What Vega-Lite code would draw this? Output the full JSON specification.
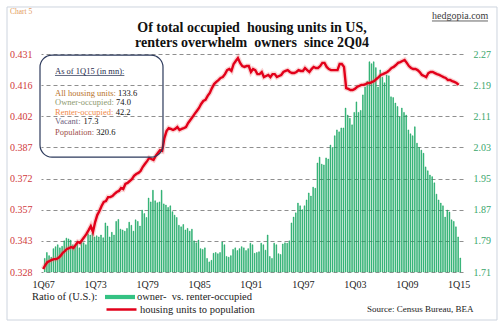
{
  "$schema": "https://vega.github.io/schema/vega-lite/v6.json",
  "width": 422,
  "height": 218,
  "autosize": {"type": "none"},
  "padding": {"left": 41, "top": 54, "right": 40, "bottom": 57},
  "background": "white",
  "config": {"view": {"stroke": null}, "font": "Liberation Serif"},
  "data": {"values": [
    {"d":"1967-01-01","r":1.745,"h":0.3294},{"d":"1967-04-01","r":1.760,"h":0.3313},{"d":"1967-07-01","r":1.752,"h":0.3327},{"d":"1967-10-01","r":1.748,"h":0.3332},
    {"d":"1968-01-01","r":1.770,"h":0.3337},{"d":"1968-04-01","r":1.775,"h":0.3341},{"d":"1968-07-01","r":1.780,"h":0.3341},{"d":"1968-10-01","r":1.772,"h":0.3346},
    {"d":"1969-01-01","r":1.776,"h":0.3356},{"d":"1969-04-01","r":1.790,"h":0.3370},{"d":"1969-07-01","r":1.797,"h":0.3379},{"d":"1969-10-01","r":1.795,"h":0.3389},
    {"d":"1970-01-01","r":1.792,"h":0.3393},{"d":"1970-04-01","r":1.780,"h":0.3398},{"d":"1970-07-01","r":1.776,"h":0.3393},{"d":"1970-10-01","r":1.782,"h":0.3408},
    {"d":"1971-01-01","r":1.772,"h":0.3422},{"d":"1971-04-01","r":1.788,"h":0.3417},{"d":"1971-07-01","r":1.785,"h":0.3431},{"d":"1971-10-01","r":1.780,"h":0.3445},
    {"d":"1972-01-01","r":1.808,"h":0.3460},{"d":"1972-04-01","r":1.805,"h":0.3478},{"d":"1972-07-01","r":1.810,"h":0.3497},{"d":"1972-10-01","r":1.800,"h":0.3469},
    {"d":"1973-01-01","r":1.803,"h":0.3516},{"d":"1973-04-01","r":1.800,"h":0.3549},{"d":"1973-07-01","r":1.805,"h":0.3568},{"d":"1973-10-01","r":1.798,"h":0.3592},
    {"d":"1974-01-01","r":1.836,"h":0.3611},{"d":"1974-04-01","r":1.828,"h":0.3615},{"d":"1974-07-01","r":1.800,"h":0.3634},{"d":"1974-10-01","r":1.812,"h":0.3634},
    {"d":"1975-01-01","r":1.805,"h":0.3639},{"d":"1975-04-01","r":1.840,"h":0.3649},{"d":"1975-07-01","r":1.845,"h":0.3658},{"d":"1975-10-01","r":1.820,"h":0.3663},
    {"d":"1976-01-01","r":1.818,"h":0.3677},{"d":"1976-04-01","r":1.815,"h":0.3672},{"d":"1976-07-01","r":1.822,"h":0.3696},{"d":"1976-10-01","r":1.838,"h":0.3701},
    {"d":"1977-01-01","r":1.830,"h":0.3710},{"d":"1977-04-01","r":1.815,"h":0.3719},{"d":"1977-07-01","r":1.844,"h":0.3734},{"d":"1977-10-01","r":1.840,"h":0.3743},
    {"d":"1978-01-01","r":1.828,"h":0.3748},{"d":"1978-04-01","r":1.869,"h":0.3757},{"d":"1978-07-01","r":1.860,"h":0.3776},{"d":"1978-10-01","r":1.850,"h":0.3790},
    {"d":"1979-01-01","r":1.900,"h":0.3804},{"d":"1979-04-01","r":1.890,"h":0.3819},{"d":"1979-07-01","r":1.920,"h":0.3814},{"d":"1979-10-01","r":1.893,"h":0.3809},
    {"d":"1980-01-01","r":1.888,"h":0.3828},{"d":"1980-04-01","r":1.890,"h":0.3842},{"d":"1980-07-01","r":1.920,"h":0.3856},{"d":"1980-10-01","r":1.885,"h":0.3852},
    {"d":"1981-01-01","r":1.882,"h":0.3913},{"d":"1981-04-01","r":1.876,"h":0.3946},{"d":"1981-07-01","r":1.880,"h":0.3960},{"d":"1981-10-01","r":1.865,"h":0.3956},
    {"d":"1982-01-01","r":1.856,"h":0.3951},{"d":"1982-04-01","r":1.850,"h":0.3956},{"d":"1982-07-01","r":1.830,"h":0.3965},{"d":"1982-10-01","r":1.826,"h":0.3951},
    {"d":"1983-01-01","r":1.832,"h":0.3956},{"d":"1983-04-01","r":1.818,"h":0.3960},{"d":"1983-07-01","r":1.822,"h":0.3965},{"d":"1983-10-01","r":1.815,"h":0.3984},
    {"d":"1984-01-01","r":1.820,"h":0.3998},{"d":"1984-04-01","r":1.790,"h":0.4012},{"d":"1984-07-01","r":1.785,"h":0.4027},{"d":"1984-10-01","r":1.792,"h":0.4041},
    {"d":"1985-01-01","r":1.770,"h":0.4055},{"d":"1985-04-01","r":1.768,"h":0.4074},{"d":"1985-07-01","r":1.772,"h":0.4088},{"d":"1985-10-01","r":1.745,"h":0.4093},
    {"d":"1986-01-01","r":1.736,"h":0.4112},{"d":"1986-04-01","r":1.740,"h":0.4126},{"d":"1986-07-01","r":1.758,"h":0.4149},{"d":"1986-10-01","r":1.760,"h":0.4168},
    {"d":"1987-01-01","r":1.757,"h":0.4178},{"d":"1987-04-01","r":1.760,"h":0.4187},{"d":"1987-07-01","r":1.787,"h":0.4197},{"d":"1987-10-01","r":1.780,"h":0.4201},
    {"d":"1988-01-01","r":1.750,"h":0.4215},{"d":"1988-04-01","r":1.748,"h":0.4234},{"d":"1988-07-01","r":1.752,"h":0.4239},{"d":"1988-10-01","r":1.768,"h":0.4230},
    {"d":"1989-01-01","r":1.772,"h":0.4263},{"d":"1989-04-01","r":1.765,"h":0.4277},{"d":"1989-07-01","r":1.770,"h":0.4291},{"d":"1989-10-01","r":1.775,"h":0.4268},
    {"d":"1990-01-01","r":1.772,"h":0.4253},{"d":"1990-04-01","r":1.765,"h":0.4249},{"d":"1990-07-01","r":1.770,"h":0.4253},{"d":"1990-10-01","r":1.784,"h":0.4253},
    {"d":"1991-01-01","r":1.780,"h":0.4225},{"d":"1991-04-01","r":1.758,"h":0.4239},{"d":"1991-07-01","r":1.760,"h":0.4234},{"d":"1991-10-01","r":1.762,"h":0.4215},
    {"d":"1992-01-01","r":1.784,"h":0.4215},{"d":"1992-04-01","r":1.780,"h":0.4225},{"d":"1992-07-01","r":1.766,"h":0.4201},{"d":"1992-10-01","r":1.805,"h":0.4206},
    {"d":"1993-01-01","r":1.750,"h":0.4211},{"d":"1993-04-01","r":1.745,"h":0.4201},{"d":"1993-07-01","r":1.784,"h":0.4215},{"d":"1993-10-01","r":1.780,"h":0.4215},
    {"d":"1994-01-01","r":1.757,"h":0.4201},{"d":"1994-04-01","r":1.755,"h":0.4206},{"d":"1994-07-01","r":1.782,"h":0.4211},{"d":"1994-10-01","r":1.785,"h":0.4225},
    {"d":"1995-01-01","r":1.784,"h":0.4230},{"d":"1995-04-01","r":1.790,"h":0.4234},{"d":"1995-07-01","r":1.836,"h":0.4225},{"d":"1995-10-01","r":1.851,"h":0.4220},
    {"d":"1996-01-01","r":1.862,"h":0.4220},{"d":"1996-04-01","r":1.887,"h":0.4225},{"d":"1996-07-01","r":1.880,"h":0.4234},{"d":"1996-10-01","r":1.870,"h":0.4230},
    {"d":"1997-01-01","r":1.880,"h":0.4230},{"d":"1997-04-01","r":1.895,"h":0.4244},{"d":"1997-07-01","r":1.913,"h":0.4234},{"d":"1997-10-01","r":1.905,"h":0.4225},
    {"d":"1998-01-01","r":1.928,"h":0.4239},{"d":"1998-04-01","r":1.925,"h":0.4249},{"d":"1998-07-01","r":1.990,"h":0.4244},{"d":"1998-10-01","r":2.005,"h":0.4244},
    {"d":"1999-01-01","r":1.987,"h":0.4253},{"d":"1999-04-01","r":1.985,"h":0.4268},{"d":"1999-07-01","r":2.003,"h":0.4268},{"d":"1999-10-01","r":2.000,"h":0.4249},
    {"d":"2000-01-01","r":2.036,"h":0.4239},{"d":"2000-04-01","r":2.030,"h":0.4234},{"d":"2000-07-01","r":2.060,"h":0.4234},{"d":"2000-10-01","r":2.075,"h":0.4234},
    {"d":"2001-01-01","r":2.070,"h":0.4234},{"d":"2001-04-01","r":2.080,"h":0.4263},{"d":"2001-07-01","r":2.080,"h":0.4263},{"d":"2001-10-01","r":2.131,"h":0.4249},
    {"d":"2002-01-01","r":2.113,"h":0.4149},{"d":"2002-04-01","r":2.105,"h":0.4145},{"d":"2002-07-01","r":2.088,"h":0.4140},{"d":"2002-10-01","r":2.120,"h":0.4140},
    {"d":"2003-01-01","r":2.147,"h":0.4145},{"d":"2003-04-01","r":2.120,"h":0.4154},{"d":"2003-07-01","r":2.125,"h":0.4159},{"d":"2003-10-01","r":2.165,"h":0.4164},
    {"d":"2004-01-01","r":2.185,"h":0.4164},{"d":"2004-04-01","r":2.200,"h":0.4168},{"d":"2004-07-01","r":2.250,"h":0.4173},{"d":"2004-10-01","r":2.245,"h":0.4173},
    {"d":"2005-01-01","r":2.250,"h":0.4178},{"d":"2005-04-01","r":2.235,"h":0.4182},{"d":"2005-07-01","r":2.185,"h":0.4192},{"d":"2005-10-01","r":2.229,"h":0.4201},
    {"d":"2006-01-01","r":2.210,"h":0.4211},{"d":"2006-04-01","r":2.196,"h":0.4215},{"d":"2006-07-01","r":2.216,"h":0.4220},{"d":"2006-10-01","r":2.214,"h":0.4225},
    {"d":"2007-01-01","r":2.160,"h":0.4234},{"d":"2007-04-01","r":2.158,"h":0.4244},{"d":"2007-07-01","r":2.144,"h":0.4249},{"d":"2007-10-01","r":2.135,"h":0.4258},
    {"d":"2008-01-01","r":2.108,"h":0.4268},{"d":"2008-04-01","r":2.131,"h":0.4272},{"d":"2008-07-01","r":2.120,"h":0.4277},{"d":"2008-10-01","r":2.113,"h":0.4282},
    {"d":"2009-01-01","r":2.075,"h":0.4268},{"d":"2009-04-01","r":2.065,"h":0.4253},{"d":"2009-07-01","r":2.060,"h":0.4244},{"d":"2009-10-01","r":2.083,"h":0.4239},
    {"d":"2010-01-01","r":2.041,"h":0.4239},{"d":"2010-04-01","r":2.030,"h":0.4234},{"d":"2010-07-01","r":2.023,"h":0.4225},{"d":"2010-10-01","r":2.015,"h":0.4211},
    {"d":"2011-01-01","r":1.980,"h":0.4206},{"d":"2011-04-01","r":1.970,"h":0.4201},{"d":"2011-07-01","r":1.959,"h":0.4220},{"d":"2011-10-01","r":1.955,"h":0.4225},
    {"d":"2012-01-01","r":1.939,"h":0.4225},{"d":"2012-04-01","r":1.910,"h":0.4220},{"d":"2012-07-01","r":1.895,"h":0.4215},{"d":"2012-10-01","r":1.887,"h":0.4211},
    {"d":"2013-01-01","r":1.880,"h":0.4206},{"d":"2013-04-01","r":1.851,"h":0.4201},{"d":"2013-07-01","r":1.869,"h":0.4197},{"d":"2013-10-01","r":1.864,"h":0.4187},
    {"d":"2014-01-01","r":1.844,"h":0.4187},{"d":"2014-04-01","r":1.840,"h":0.4182},{"d":"2014-07-01","r":1.826,"h":0.4178},{"d":"2014-10-01","r":1.800,"h":0.4173},
    {"d":"2015-01-01","r":1.746,"h":0.4164}
  ]},
  "resolve": {"scale": {"y": "independent"}},
  "layer": [
    {
      "mark": {"type": "bar", "width": {"band": 0.8}, "stroke": "#089a52", "strokeWidth": 0.5},
      "encoding": {
        "x": {
          "field": "d", "type": "temporal", "timeUnit": "utcyearquarter",
          "scale": {"domain": [{"year": 1966, "month": 10, "date": 1, "utc": true}, {"year": 2015, "month": 7, "date": 1, "utc": true}]},
          "axis": {
            "values": [
              {"year": 1967, "month": 1, "date": 1, "utc": true},
              {"year": 1973, "month": 1, "date": 1, "utc": true},
              {"year": 1979, "month": 1, "date": 1, "utc": true},
              {"year": 1985, "month": 1, "date": 1, "utc": true},
              {"year": 1991, "month": 1, "date": 1, "utc": true},
              {"year": 1997, "month": 1, "date": 1, "utc": true},
              {"year": 2003, "month": 1, "date": 1, "utc": true},
              {"year": 2009, "month": 1, "date": 1, "utc": true},
              {"year": 2015, "month": 1, "date": 1, "utc": true}
            ],
            "tickCount": 9,
            "labelExpr": "'1Q' + utcFormat(datum.value, '%y')",
            "labelOverlap": false,
            "grid": false, "ticks": false, "domain": false,
            "labelFont": "Liberation Serif", "labelFontSize": 10, "labelColor": "#222222", "labelPadding": 7,
            "title": "Source: Census Bureau, BEA",
            "titleFont": "Liberation Serif", "titleFontSize": 9, "titleFontWeight": "normal", "titleColor": "#222222",
            "titleX": 432, "titleY": 36, "titleAlign": "right", "titleBaseline": "middle"
          }
        },
        "y": {
          "field": "r", "type": "quantitative",
          "scale": {"domain": [1.71, 2.27], "nice": false, "zero": false},
          "axis": {
            "orient": "right", "values": [1.71, 1.79, 1.87, 1.95, 2.03, 2.11, 2.19, 2.27], "format": ".2f",
            "tickCount": 8, "labelOverlap": false,
            "grid": true, "gridDash": [4, 3], "gridColor": "#8f8f8f", "gridWidth": 1,
            "ticks": false, "domain": false,
            "labelFont": "Liberation Serif", "labelFontSize": 10, "labelColor": "#3aa66c", "labelPadding": 10,
            "title": null
          }
        },
        "y2": {"datum": 1.71},
        "fill": {
          "datum": "owner- \u00a0vs. renter-occupied", "type": "nominal",
          "scale": {"range": ["#34c283"]},
          "legend": {
            "orient": "none", "legendX": 64, "legendY": 228, "padding": 0, "title": null,
            "symbolType": "M-1,-0.14H1V0.14H-1Z", "symbolSize": 900, "symbolStrokeWidth": 0,
            "labelFont": "Liberation Serif", "labelFontSize": 10.5, "labelColor": "#222222", "labelOffset": 2
          }
        }
      }
    },
    {
      "layer": [
        {
          "data": {"values": [{}]},
          "mark": {"type": "rect", "fill": "transparent", "stroke": "#cdd4de", "strokeWidth": 1},
          "encoding": {
            "x": {"datum": {"year": 1962, "month": 10, "date": 28, "utc": true}, "type": "temporal"},
            "x2": {"datum": {"year": 2019, "month": 6, "date": 4, "utc": true}},
            "y": {"datum": 0.45321, "type": "quantitative"},
            "y2": {"datum": 0.30532}
          }
        },
        {
          "mark": {"type": "line", "strokeWidth": 5, "color": "#f07070", "opacity": 0.3},
          "encoding": {
            "x": {"field": "d", "type": "temporal", "timeUnit": "utcyearquarter"},
            "y": {"field": "h", "type": "quantitative"}
          }
        },
        {
          "mark": {"type": "line", "strokeWidth": 2.4},
          "encoding": {
            "x": {"field": "d", "type": "temporal", "timeUnit": "utcyearquarter"},
            "y": {
              "field": "h", "type": "quantitative",
              "scale": {"domain": [0.328, 0.431], "nice": false, "zero": false},
              "axis": {
                "orient": "left",
                "values": [0.328, 0.342714, 0.357429, 0.372143, 0.386857, 0.401571, 0.416286, 0.431],
                "tickCount": 8,
                "format": ".3f",
                "labelOverlap": false, "labelBound": false,
                "grid": false, "ticks": false, "domain": false,
                "labelFont": "Liberation Serif", "labelFontSize": 10, "labelColor": "#d0393b", "labelPadding": 9,
                "title": null
              }
            },
            "stroke": {
              "datum": "housing units to population", "type": "nominal",
              "scale": {"range": ["#e2001a"]},
              "legend": {
                "orient": "none", "legendX": 64, "legendY": 239, "padding": 0, "title": null,
                "symbolType": "stroke", "symbolSize": 900, "symbolStrokeWidth": 2.5,
                "labelFont": "Liberation Serif", "labelFontSize": 10.5, "labelColor": "#222222", "labelOffset": 2
              }
            }
          }
        },
        {
          "data": {"values": [{}]},
          "mark": {"type": "text", "text": "Ratio of (U.S.):", "align": "left", "baseline": "middle", "fontSize": 10.5, "color": "#222222"},
          "encoding": {
            "x": {"datum": {"year": 1965, "month": 9, "date": 16, "utc": true}, "type": "temporal"},
            "y": {"datum": 0.31619, "type": "quantitative"}
          }
        },
        {
          "data": {"values": [{}]},
          "mark": {"type": "rect", "fill": "transparent", "stroke": "#2d3a5c", "strokeWidth": 1.2, "cornerRadius": 12},
          "encoding": {
            "x": {"datum": {"year": 1966, "month": 8, "date": 20, "utc": true}, "type": "temporal"},
            "x2": {"datum": {"year": 1980, "month": 11, "date": 3, "utc": true}},
            "y": {"datum": 0.4305, "type": "quantitative"},
            "y2": {"datum": 0.3823}
          }
        },
        {
          "data": {"values": [{}]},
          "mark": {"type": "text", "text": "Of total occupied \u00a0housing units in US,", "align": "center", "baseline": "alphabetic", "fontSize": 14, "fontWeight": "bold", "color": "#111111"},
          "encoding": {
            "x": {"datum": {"year": 1991, "month": 2, "date": 14, "utc": true}, "type": "temporal"},
            "y": {"datum": 0.44131, "type": "quantitative"}
          }
        },
        {
          "data": {"values": [{}]},
          "mark": {"type": "text", "text": "renters overwhelm \u00a0owners \u00a0since 2Q04", "align": "center", "baseline": "alphabetic", "fontSize": 14, "fontWeight": "bold", "color": "#111111"},
          "encoding": {
            "x": {"datum": {"year": 1991, "month": 2, "date": 14, "utc": true}, "type": "temporal"},
            "y": {"datum": 0.43422, "type": "quantitative"}
          }
        },
        {
          "data": {"values": [{}]},
          "mark": {"type": "text", "text": "Chart 5", "align": "left", "baseline": "middle", "fontSize": 7.5, "color": "#e39a5c"},
          "encoding": {
            "x": {"datum": {"year": 1963, "month": 3, "date": 3, "utc": true}, "type": "temporal"},
            "y": {"datum": 0.45085, "type": "quantitative"}
          }
        },
        {
          "data": {"values": [{}]},
          "mark": {"type": "text", "text": "hedgopia.com", "align": "left", "baseline": "middle", "fontSize": 10, "color": "#3c3c3c"},
          "encoding": {
            "x": {"datum": {"year": 2011, "month": 11, "date": 30, "utc": true}, "type": "temporal"},
            "y": {"datum": 0.44896, "type": "quantitative"}
          }
        },
        {
          "data": {"values": [{}]},
          "mark": {"type": "rule", "stroke": "#3c3c3c", "strokeWidth": 0.8},
          "encoding": {
            "x": {"datum": {"year": 2011, "month": 11, "date": 30, "utc": true}, "type": "temporal"},
            "x2": {"datum": {"year": 2018, "month": 5, "date": 20, "utc": true}},
            "y": {"datum": 0.4466, "type": "quantitative"}
          }
        },
        {
          "data": {"values": [{}]},
          "mark": {"type": "text", "text": "As of 1Q15 (in mn):", "align": "left", "baseline": "middle", "fontSize": 8.5, "color": "#1f2b4d"},
          "encoding": {
            "x": {"datum": {"year": 1968, "month": 5, "date": 14, "utc": true}, "type": "temporal"},
            "y": {"datum": 0.42297, "type": "quantitative"}
          }
        },
        {
          "data": {"values": [{}]},
          "mark": {"type": "rule", "stroke": "#1f2b4d", "strokeWidth": 0.7},
          "encoding": {
            "x": {"datum": {"year": 1968, "month": 5, "date": 14, "utc": true}, "type": "temporal"},
            "x2": {"datum": {"year": 1976, "month": 5, "date": 20, "utc": true}},
            "y": {"datum": 0.42085, "type": "quantitative"}
          }
        },
        {
          "data": {"values": [{}]},
          "mark": {"type": "text", "text": "All housing units:", "align": "left", "baseline": "middle", "fontSize": 8.5, "color": "#b8732a"},
          "encoding": {
            "x": {"datum": {"year": 1968, "month": 5, "date": 14, "utc": true}, "type": "temporal"},
            "y": {"datum": 0.41272, "type": "quantitative"}
          }
        },
        {
          "data": {"values": [{}]},
          "mark": {"type": "text", "text": "133.6", "align": "left", "baseline": "middle", "fontSize": 8.5, "color": "#111111", "dx": 63},
          "encoding": {
            "x": {"datum": {"year": 1968, "month": 5, "date": 14, "utc": true}, "type": "temporal"},
            "y": {"datum": 0.41272, "type": "quantitative"}
          }
        },
        {
          "data": {"values": [{}]},
          "mark": {"type": "text", "text": "Owner-occupied:", "align": "left", "baseline": "middle", "fontSize": 8.5, "color": "#8d9a70"},
          "encoding": {
            "x": {"datum": {"year": 1968, "month": 5, "date": 14, "utc": true}, "type": "temporal"},
            "y": {"datum": 0.40847, "type": "quantitative"}
          }
        },
        {
          "data": {"values": [{}]},
          "mark": {"type": "text", "text": "74.0", "align": "left", "baseline": "middle", "fontSize": 8.5, "color": "#111111", "dx": 61.1},
          "encoding": {
            "x": {"datum": {"year": 1968, "month": 5, "date": 14, "utc": true}, "type": "temporal"},
            "y": {"datum": 0.40847, "type": "quantitative"}
          }
        },
        {
          "data": {"values": [{}]},
          "mark": {"type": "text", "text": "Renter-occupied:", "align": "left", "baseline": "middle", "fontSize": 8.5, "color": "#f08a4b"},
          "encoding": {
            "x": {"datum": {"year": 1968, "month": 5, "date": 14, "utc": true}, "type": "temporal"},
            "y": {"datum": 0.40374, "type": "quantitative"}
          }
        },
        {
          "data": {"values": [{}]},
          "mark": {"type": "text", "text": "42.2", "align": "left", "baseline": "middle", "fontSize": 8.5, "color": "#111111", "dx": 60.7},
          "encoding": {
            "x": {"datum": {"year": 1968, "month": 5, "date": 14, "utc": true}, "type": "temporal"},
            "y": {"datum": 0.40374, "type": "quantitative"}
          }
        },
        {
          "data": {"values": [{}]},
          "mark": {"type": "text", "text": "Vacant:", "align": "left", "baseline": "middle", "fontSize": 8.5, "color": "#6d6080"},
          "encoding": {
            "x": {"datum": {"year": 1968, "month": 5, "date": 14, "utc": true}, "type": "temporal"},
            "y": {"datum": 0.39935, "type": "quantitative"}
          }
        },
        {
          "data": {"values": [{}]},
          "mark": {"type": "text", "text": "17.3", "align": "left", "baseline": "middle", "fontSize": 8.5, "color": "#111111", "dx": 28.6},
          "encoding": {
            "x": {"datum": {"year": 1968, "month": 5, "date": 14, "utc": true}, "type": "temporal"},
            "y": {"datum": 0.39935, "type": "quantitative"}
          }
        },
        {
          "data": {"values": [{}]},
          "mark": {"type": "text", "text": "Population:", "align": "left", "baseline": "middle", "fontSize": 8.5, "color": "#a0504a"},
          "encoding": {
            "x": {"datum": {"year": 1968, "month": 5, "date": 14, "utc": true}, "type": "temporal"},
            "y": {"datum": 0.39429, "type": "quantitative"}
          }
        },
        {
          "data": {"values": [{}]},
          "mark": {"type": "text", "text": "320.6", "align": "left", "baseline": "middle", "fontSize": 8.5, "color": "#111111", "dx": 41.3},
          "encoding": {
            "x": {"datum": {"year": 1968, "month": 5, "date": 14, "utc": true}, "type": "temporal"},
            "y": {"datum": 0.39429, "type": "quantitative"}
          }
        }
      ]
    }
  ]
}
